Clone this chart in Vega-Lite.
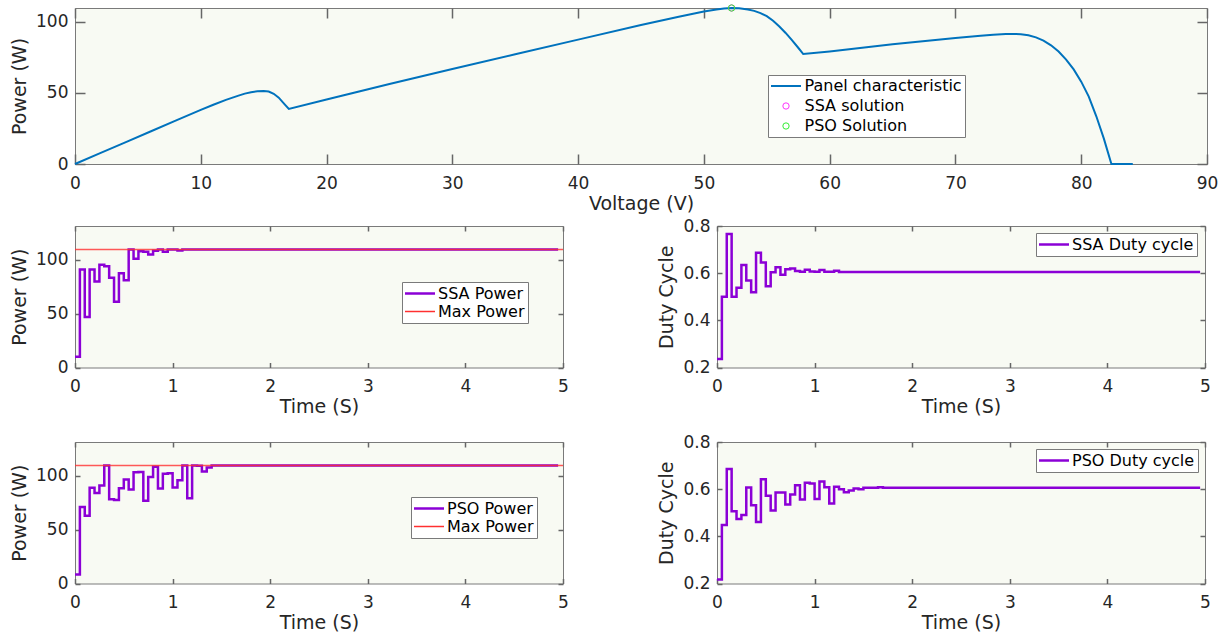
{
 "$schema": "https://vega.github.io/schema/vega-lite/v6.json",
 "background": "white",
 "padding": {"left": 10, "top": 2, "right": 5, "bottom": 0},
 "config": {
  "view": {"stroke": "#7a7a7a", "fill": "#F8FAF3", "strokeWidth": 1},
  "axis": {"labelFont": "DejaVu Sans", "titleFont": "DejaVu Sans", "labelFontSize": 17, "titleFontSize": 19, "titleFontWeight": "normal", "labelColor": "#262626", "titleColor": "#262626", "domain": false, "grid": false, "ticks": true, "tickColor": "#666666", "tickWidth": 1.5, "tickOpacity": 1, "labelFlush": false, "labelOverlap": false, "titlePadding": 6, "zindex": 1},
  "legend": {"labelFont": "DejaVu Sans", "labelFontSize": 16, "labelColor": "#000000", "strokeColor": "#7a7a7a", "fillColor": "white", "padding": 3, "symbolType": "stroke", "symbolSize": 196, "symbolStrokeWidth": 2.5, "rowPadding": 1, "symbolOffset": 6.5, "labelOffset": 9.5, "labelLimit": 400, "columns": 1, "orient": "none"}
 },
 "datasets": {
  "pv": [
   {"v":0,"p":0,"series":"Panel characteristic"},{"v":2,"p":7.6,"series":"Panel characteristic"},{"v":4,"p":15.2,"series":"Panel characteristic"},{"v":6,"p":22.8,"series":"Panel characteristic"},{"v":8,"p":30.4,"series":"Panel characteristic"},{"v":10,"p":38,"series":"Panel characteristic"},{"v":11,"p":41.6,"series":"Panel characteristic"},{"v":12,"p":45,"series":"Panel characteristic"},{"v":13,"p":48,"series":"Panel characteristic"},{"v":13.5,"p":49.4,"series":"Panel characteristic"},{"v":14,"p":50.4,"series":"Panel characteristic"},{"v":14.5,"p":51,"series":"Panel characteristic"},{"v":15,"p":51.2,"series":"Panel characteristic"},{"v":15.4,"p":50.9,"series":"Panel characteristic"},{"v":15.8,"p":49.3,"series":"Panel characteristic"},{"v":16.2,"p":46.6,"series":"Panel characteristic"},{"v":16.6,"p":42.6,"series":"Panel characteristic"},{"v":17,"p":38.7,"series":"Panel characteristic"},{"v":20,"p":45.3,"series":"Panel characteristic"},{"v":25,"p":56.2,"series":"Panel characteristic"},{"v":30,"p":66.7,"series":"Panel characteristic"},{"v":35,"p":77,"series":"Panel characteristic"},{"v":40,"p":87.3,"series":"Panel characteristic"},{"v":45,"p":97.5,"series":"Panel characteristic"},{"v":48,"p":103.3,"series":"Panel characteristic"},{"v":50,"p":107,"series":"Panel characteristic"},{"v":51,"p":108.5,"series":"Panel characteristic"},{"v":51.6,"p":109.2,"series":"Panel characteristic"},{"v":52.2,"p":109.5,"series":"Panel characteristic"},{"v":52.8,"p":109.4,"series":"Panel characteristic"},{"v":53.5,"p":108.5,"series":"Panel characteristic"},{"v":54,"p":107.5,"series":"Panel characteristic"},{"v":54.5,"p":105.9,"series":"Panel characteristic"},{"v":55,"p":103.8,"series":"Panel characteristic"},{"v":55.5,"p":100.5,"series":"Panel characteristic"},{"v":56,"p":96.5,"series":"Panel characteristic"},{"v":56.5,"p":92,"series":"Panel characteristic"},{"v":57,"p":87,"series":"Panel characteristic"},{"v":57.5,"p":81.6,"series":"Panel characteristic"},{"v":57.9,"p":77.2,"series":"Panel characteristic"},{"v":60,"p":79,"series":"Panel characteristic"},{"v":65,"p":84,"series":"Panel characteristic"},{"v":70,"p":88.5,"series":"Panel characteristic"},{"v":72,"p":90.1,"series":"Panel characteristic"},{"v":73,"p":90.8,"series":"Panel characteristic"},{"v":74,"p":91.2,"series":"Panel characteristic"},{"v":74.6,"p":91.3,"series":"Panel characteristic"},{"v":75.2,"p":91.1,"series":"Panel characteristic"},{"v":75.8,"p":90.4,"series":"Panel characteristic"},{"v":76.4,"p":88.9,"series":"Panel characteristic"},{"v":77,"p":86.6,"series":"Panel characteristic"},{"v":77.6,"p":83.3,"series":"Panel characteristic"},{"v":78.2,"p":78.9,"series":"Panel characteristic"},{"v":78.8,"p":73.3,"series":"Panel characteristic"},{"v":79.4,"p":66.4,"series":"Panel characteristic"},{"v":80,"p":57.8,"series":"Panel characteristic"},{"v":80.6,"p":47.3,"series":"Panel characteristic"},{"v":81.2,"p":33.5,"series":"Panel characteristic"},{"v":81.8,"p":17.8,"series":"Panel characteristic"},{"v":82.4,"p":0,"series":"Panel characteristic"},{"v":84.1,"p":0,"series":"Panel characteristic"}
  ],
  "mk": [
   {"v":52.2,"p":109.5,"series":"SSA solution"},
   {"v":52.2,"p":109.5,"series":"PSO Solution"}
  ],
  "maxP": [
   {"t":0,"p":109.6,"series":"Max Power"},
   {"t":5,"p":109.6,"series":"Max Power"}
  ],
  "ssaP": [
   {"t":0,"p":10,"series":"SSA Power"},{"t":0.05,"p":91,"series":"SSA Power"},{"t":0.1,"p":47,"series":"SSA Power"},{"t":0.15,"p":91,"series":"SSA Power"},{"t":0.2,"p":80,"series":"SSA Power"},{"t":0.25,"p":95.5,"series":"SSA Power"},{"t":0.3,"p":94,"series":"SSA Power"},{"t":0.35,"p":83.5,"series":"SSA Power"},{"t":0.4,"p":61,"series":"SSA Power"},{"t":0.45,"p":87.5,"series":"SSA Power"},{"t":0.5,"p":81,"series":"SSA Power"},{"t":0.55,"p":109.6,"series":"SSA Power"},{"t":0.6,"p":101,"series":"SSA Power"},{"t":0.65,"p":108,"series":"SSA Power"},{"t":0.7,"p":107.5,"series":"SSA Power"},{"t":0.75,"p":105,"series":"SSA Power"},{"t":0.8,"p":108.5,"series":"SSA Power"},{"t":0.85,"p":109.6,"series":"SSA Power"},{"t":0.9,"p":107.5,"series":"SSA Power"},{"t":0.95,"p":109.6,"series":"SSA Power"},{"t":1.0,"p":109.6,"series":"SSA Power"},{"t":1.05,"p":108.8,"series":"SSA Power"},{"t":1.1,"p":109.6,"series":"SSA Power"},{"t":4.95,"p":109.6,"series":"SSA Power"}
  ],
  "psoP": [
   {"t":0,"p":8.4,"series":"PSO Power"},{"t":0.05,"p":71,"series":"PSO Power"},{"t":0.1,"p":63,"series":"PSO Power"},{"t":0.15,"p":89,"series":"PSO Power"},{"t":0.2,"p":84,"series":"PSO Power"},{"t":0.25,"p":91,"series":"PSO Power"},{"t":0.3,"p":109.6,"series":"PSO Power"},{"t":0.35,"p":78.3,"series":"PSO Power"},{"t":0.4,"p":77.7,"series":"PSO Power"},{"t":0.45,"p":88.5,"series":"PSO Power"},{"t":0.5,"p":96.6,"series":"PSO Power"},{"t":0.55,"p":87.3,"series":"PSO Power"},{"t":0.6,"p":103.4,"series":"PSO Power"},{"t":0.65,"p":103.7,"series":"PSO Power"},{"t":0.7,"p":76.8,"series":"PSO Power"},{"t":0.75,"p":99,"series":"PSO Power"},{"t":0.8,"p":108.4,"series":"PSO Power"},{"t":0.85,"p":88.2,"series":"PSO Power"},{"t":0.9,"p":101.9,"series":"PSO Power"},{"t":0.95,"p":102.5,"series":"PSO Power"},{"t":1.0,"p":89.2,"series":"PSO Power"},{"t":1.05,"p":96,"series":"PSO Power"},{"t":1.1,"p":109.6,"series":"PSO Power"},{"t":1.15,"p":79.3,"series":"PSO Power"},{"t":1.2,"p":109.6,"series":"PSO Power"},{"t":1.25,"p":109.4,"series":"PSO Power"},{"t":1.3,"p":104,"series":"PSO Power"},{"t":1.35,"p":107.7,"series":"PSO Power"},{"t":1.4,"p":109.6,"series":"PSO Power"},{"t":4.95,"p":109.6,"series":"PSO Power"}
  ],
  "ssaD": [
   {"t":0,"d":0.236,"series":"SSA Duty cycle"},{"t":0.05,"d":0.5,"series":"SSA Duty cycle"},{"t":0.1,"d":0.766,"series":"SSA Duty cycle"},{"t":0.15,"d":0.5,"series":"SSA Duty cycle"},{"t":0.2,"d":0.538,"series":"SSA Duty cycle"},{"t":0.25,"d":0.635,"series":"SSA Duty cycle"},{"t":0.3,"d":0.569,"series":"SSA Duty cycle"},{"t":0.35,"d":0.519,"series":"SSA Duty cycle"},{"t":0.4,"d":0.687,"series":"SSA Duty cycle"},{"t":0.45,"d":0.645,"series":"SSA Duty cycle"},{"t":0.5,"d":0.544,"series":"SSA Duty cycle"},{"t":0.55,"d":0.604,"series":"SSA Duty cycle"},{"t":0.6,"d":0.625,"series":"SSA Duty cycle"},{"t":0.65,"d":0.593,"series":"SSA Duty cycle"},{"t":0.7,"d":0.617,"series":"SSA Duty cycle"},{"t":0.75,"d":0.62,"series":"SSA Duty cycle"},{"t":0.8,"d":0.609,"series":"SSA Duty cycle"},{"t":0.85,"d":0.606,"series":"SSA Duty cycle"},{"t":0.9,"d":0.615,"series":"SSA Duty cycle"},{"t":0.95,"d":0.607,"series":"SSA Duty cycle"},{"t":1.0,"d":0.606,"series":"SSA Duty cycle"},{"t":1.05,"d":0.613,"series":"SSA Duty cycle"},{"t":1.1,"d":0.606,"series":"SSA Duty cycle"},{"t":1.15,"d":0.606,"series":"SSA Duty cycle"},{"t":1.2,"d":0.61,"series":"SSA Duty cycle"},{"t":1.25,"d":0.605,"series":"SSA Duty cycle"},{"t":4.95,"d":0.605,"series":"SSA Duty cycle"}
  ],
  "psoD": [
   {"t":0,"d":0.217,"series":"PSO Duty cycle"},{"t":0.05,"d":0.448,"series":"PSO Duty cycle"},{"t":0.1,"d":0.685,"series":"PSO Duty cycle"},{"t":0.15,"d":0.506,"series":"PSO Duty cycle"},{"t":0.2,"d":0.473,"series":"PSO Duty cycle"},{"t":0.25,"d":0.49,"series":"PSO Duty cycle"},{"t":0.3,"d":0.607,"series":"PSO Duty cycle"},{"t":0.35,"d":0.532,"series":"PSO Duty cycle"},{"t":0.4,"d":0.461,"series":"PSO Duty cycle"},{"t":0.45,"d":0.642,"series":"PSO Duty cycle"},{"t":0.5,"d":0.572,"series":"PSO Duty cycle"},{"t":0.55,"d":0.51,"series":"PSO Duty cycle"},{"t":0.6,"d":0.586,"series":"PSO Duty cycle"},{"t":0.65,"d":0.586,"series":"PSO Duty cycle"},{"t":0.7,"d":0.535,"series":"PSO Duty cycle"},{"t":0.75,"d":0.577,"series":"PSO Duty cycle"},{"t":0.8,"d":0.617,"series":"PSO Duty cycle"},{"t":0.85,"d":0.556,"series":"PSO Duty cycle"},{"t":0.9,"d":0.627,"series":"PSO Duty cycle"},{"t":0.95,"d":0.624,"series":"PSO Duty cycle"},{"t":1.0,"d":0.558,"series":"PSO Duty cycle"},{"t":1.05,"d":0.632,"series":"PSO Duty cycle"},{"t":1.1,"d":0.608,"series":"PSO Duty cycle"},{"t":1.15,"d":0.539,"series":"PSO Duty cycle"},{"t":1.2,"d":0.61,"series":"PSO Duty cycle"},{"t":1.25,"d":0.6,"series":"PSO Duty cycle"},{"t":1.3,"d":0.587,"series":"PSO Duty cycle"},{"t":1.35,"d":0.594,"series":"PSO Duty cycle"},{"t":1.4,"d":0.603,"series":"PSO Duty cycle"},{"t":1.45,"d":0.6,"series":"PSO Duty cycle"},{"t":1.5,"d":0.606,"series":"PSO Duty cycle"},{"t":1.65,"d":0.608,"series":"PSO Duty cycle"},{"t":1.7,"d":0.606,"series":"PSO Duty cycle"},{"t":4.95,"d":0.606,"series":"PSO Duty cycle"}
  ]
 },
 "spacing": 2,
 "resolve": {"scale": {"color": "independent"}, "legend": {"color": "independent"}},
 "vconcat": [
  {
   "resolve": {"scale": {"color": "independent"}, "legend": {"color": "independent"}},
   "hconcat": [
    {
     "width": 1132, "height": 156,
     "resolve": {"axis": {"x": "independent", "y": "independent"}},
     "layer": [
      {
       "data": {"name": "pv"},
       "mark": {"type": "line", "strokeWidth": 2},
       "encoding": {
        "x": {"field": "v", "type": "quantitative", "scale": {"domain": [0, 90], "nice": false, "zero": false}, "axis": {"orient": "bottom", "title": "Voltage (V)", "titlePadding": 3, "values": [0,10,20,30,40,50,60,70,80,90], "tickSize": -10, "labelPadding": 21}},
        "y": {"field": "p", "type": "quantitative", "scale": {"domain": [0, 109.5], "nice": false}, "axis": {"orient": "left", "title": "Power (W)", "values": [0,50,100], "tickSize": -10, "labelPadding": 17}},
        "color": {"field": "series", "type": "nominal", "scale": {"domain": ["Panel characteristic", "SSA solution", "PSO Solution"], "range": ["#0072BD", "#FF33FF", "#33EE33"]},
         "legend": {"title": null, "orient": "none", "legendX": 693, "legendY": 67, "symbolOffset": 7, "labelOffset": 10.5, "rowPadding": 4,
          "encode": {"symbols": {"update": {
           "shape": {"signal": "((datum.value == null || datum.value === 'Panel characteristic') ? 'stroke' : 'circle')"},
           "size": {"signal": "(datum.value == null ? 196 : (datum.value === 'Panel characteristic' ? 900 : 40))"},
           "strokeWidth": {"signal": "((datum.value === 'SSA solution' || datum.value === 'PSO Solution') ? 1 : 2)"},
           "fill": {"value": "transparent"}}}}}}
       }
      },
      {
       "data": {"name": "mk"},
       "mark": {"type": "point", "filled": false, "size": 40, "strokeWidth": 1, "opacity": 1},
       "encoding": {
        "x": {"field": "v", "type": "quantitative", "axis": {"orient": "top", "title": null, "labels": false, "values": [0,10,20,30,40,50,60,70,80,90], "tickSize": -10}},
        "y": {"field": "p", "type": "quantitative", "axis": {"orient": "right", "title": null, "labels": false, "values": [0,50,100], "tickSize": -10}},
        "color": {"field": "series", "type": "nominal"}
       }
      }
     ]
    }
   ]
  },
  {
   "spacing": 15,
   "resolve": {"scale": {"color": "independent"}, "legend": {"color": "independent"}},
   "vconcat": [
    {
     "spacing": 88,
     "resolve": {"scale": {"color": "independent"}, "legend": {"color": "independent"}},
     "hconcat": [
      {
       "width": 488, "height": 141.5,
       "resolve": {"axis": {"x": "independent", "y": "independent"}},
       "layer": [
        {
         "data": {"name": "ssaP"},
         "mark": {"type": "line", "interpolate": "step-after", "strokeWidth": 2.5},
         "encoding": {
          "x": {"field": "t", "type": "quantitative", "scale": {"domain": [0, 5], "nice": false}, "axis": {"orient": "bottom", "title": "Time (S)", "titlePadding": 3, "values": [0,1,2,3,4,5], "tickSize": -5, "labelPadding": 16}},
          "y": {"field": "p", "type": "quantitative", "scale": {"domain": [0, 131.5], "nice": false}, "axis": {"orient": "left", "title": "Power (W)", "values": [0,50,100], "tickSize": -5, "labelPadding": 12}},
          "color": {"field": "series", "type": "nominal", "scale": {"domain": ["SSA Power", "Max Power"], "range": ["#8B00D6", "#FF3030"]},
           "legend": {"title": null, "orient": "none", "legendX": 327, "legendY": 56,
            "encode": {"symbols": {"update": {
             "size": {"signal": "(datum.value == null ? 196 : 900)"},
             "strokeWidth": {"signal": "(datum.value === 'Max Power' ? 1.5 : 2.5)"}}}}}}
         }
        },
        {
         "data": {"name": "maxP"},
         "mark": {"type": "line", "strokeWidth": 1.4, "opacity": 0.8},
         "encoding": {
          "x": {"field": "t", "type": "quantitative", "axis": {"orient": "top", "title": null, "labels": false, "values": [0,1,2,3,4,5], "tickSize": -5}},
          "y": {"field": "p", "type": "quantitative", "axis": {"orient": "right", "title": null, "labels": false, "values": [0,50,100], "tickSize": -5}},
          "color": {"field": "series", "type": "nominal"}
         }
        }
       ]
      },
      {
       "width": 488, "height": 141.5,
       "resolve": {"axis": {"x": "independent", "y": "independent"}},
       "layer": [
        {
         "data": {"name": "ssaD"},
         "mark": {"type": "line", "interpolate": "step-after", "strokeWidth": 2.5},
         "encoding": {
          "x": {"field": "t", "type": "quantitative", "scale": {"domain": [0, 5], "nice": false}, "axis": {"orient": "bottom", "title": "Time (S)", "titlePadding": 3, "values": [0,1,2,3,4,5], "tickSize": -5, "labelPadding": 16}},
          "y": {"field": "d", "type": "quantitative", "scale": {"domain": [0.2, 0.8], "nice": false, "zero": false}, "axis": {"orient": "left", "title": "Duty Cycle", "values": [0.2,0.4,0.6,0.8], "format": ".1f", "tickSize": -5, "labelPadding": 12}},
          "color": {"field": "series", "type": "nominal", "scale": {"domain": ["SSA Duty cycle"], "range": ["#8B00D6"]},
           "legend": {"title": null, "orient": "none", "legendX": 319, "legendY": 7,
            "encode": {"symbols": {"update": {"size": {"signal": "(datum.value == null ? 196 : 900)"}}}}}}
         }
        },
        {
         "data": {"name": "ssaD"},
         "mark": {"type": "line", "interpolate": "step-after", "strokeWidth": 2.5, "opacity": 0},
         "encoding": {
          "x": {"field": "t", "type": "quantitative", "axis": {"orient": "top", "title": null, "labels": false, "values": [0,1,2,3,4,5], "tickSize": -5}},
          "y": {"field": "d", "type": "quantitative", "axis": {"orient": "right", "title": null, "labels": false, "values": [0.2,0.4,0.6,0.8], "tickSize": -5}}
         }
        }
       ]
      }
     ]
    },
    {
     "spacing": 88,
     "resolve": {"scale": {"color": "independent"}, "legend": {"color": "independent"}},
     "hconcat": [
      {
       "width": 488, "height": 141.5,
       "resolve": {"axis": {"x": "independent", "y": "independent"}},
       "layer": [
        {
         "data": {"name": "psoP"},
         "mark": {"type": "line", "interpolate": "step-after", "strokeWidth": 2.5},
         "encoding": {
          "x": {"field": "t", "type": "quantitative", "scale": {"domain": [0, 5], "nice": false}, "axis": {"orient": "bottom", "title": "Time (S)", "titlePadding": 3, "values": [0,1,2,3,4,5], "tickSize": -5, "labelPadding": 16}},
          "y": {"field": "p", "type": "quantitative", "scale": {"domain": [0, 131.5], "nice": false}, "axis": {"orient": "left", "title": "Power (W)", "values": [0,50,100], "tickSize": -5, "labelPadding": 12}},
          "color": {"field": "series", "type": "nominal", "scale": {"domain": ["PSO Power", "Max Power"], "range": ["#8B00D6", "#FF3030"]},
           "legend": {"title": null, "orient": "none", "legendX": 336, "legendY": 55,
            "encode": {"symbols": {"update": {
             "size": {"signal": "(datum.value == null ? 196 : 900)"},
             "strokeWidth": {"signal": "(datum.value === 'Max Power' ? 1.5 : 2.5)"}}}}}}
         }
        },
        {
         "data": {"name": "maxP"},
         "mark": {"type": "line", "strokeWidth": 1.4, "opacity": 0.8},
         "encoding": {
          "x": {"field": "t", "type": "quantitative", "axis": {"orient": "top", "title": null, "labels": false, "values": [0,1,2,3,4,5], "tickSize": -5}},
          "y": {"field": "p", "type": "quantitative", "axis": {"orient": "right", "title": null, "labels": false, "values": [0,50,100], "tickSize": -5}},
          "color": {"field": "series", "type": "nominal"}
         }
        }
       ]
      },
      {
       "width": 488, "height": 141.5,
       "resolve": {"axis": {"x": "independent", "y": "independent"}},
       "layer": [
        {
         "data": {"name": "psoD"},
         "mark": {"type": "line", "interpolate": "step-after", "strokeWidth": 2.5},
         "encoding": {
          "x": {"field": "t", "type": "quantitative", "scale": {"domain": [0, 5], "nice": false}, "axis": {"orient": "bottom", "title": "Time (S)", "titlePadding": 3, "values": [0,1,2,3,4,5], "tickSize": -5, "labelPadding": 16}},
          "y": {"field": "d", "type": "quantitative", "scale": {"domain": [0.2, 0.8], "nice": false, "zero": false}, "axis": {"orient": "left", "title": "Duty Cycle", "values": [0.2,0.4,0.6,0.8], "format": ".1f", "tickSize": -5, "labelPadding": 12}},
          "color": {"field": "series", "type": "nominal", "scale": {"domain": ["PSO Duty cycle"], "range": ["#8B00D6"]},
           "legend": {"title": null, "orient": "none", "legendX": 319, "legendY": 7,
            "encode": {"symbols": {"update": {"size": {"signal": "(datum.value == null ? 196 : 900)"}}}}}}
         }
        },
        {
         "data": {"name": "psoD"},
         "mark": {"type": "line", "interpolate": "step-after", "strokeWidth": 2.5, "opacity": 0},
         "encoding": {
          "x": {"field": "t", "type": "quantitative", "axis": {"orient": "top", "title": null, "labels": false, "values": [0,1,2,3,4,5], "tickSize": -5}},
          "y": {"field": "d", "type": "quantitative", "axis": {"orient": "right", "title": null, "labels": false, "values": [0.2,0.4,0.6,0.8], "tickSize": -5}}
         }
        }
       ]
      }
     ]
    }
   ]
  }
 ]
}
